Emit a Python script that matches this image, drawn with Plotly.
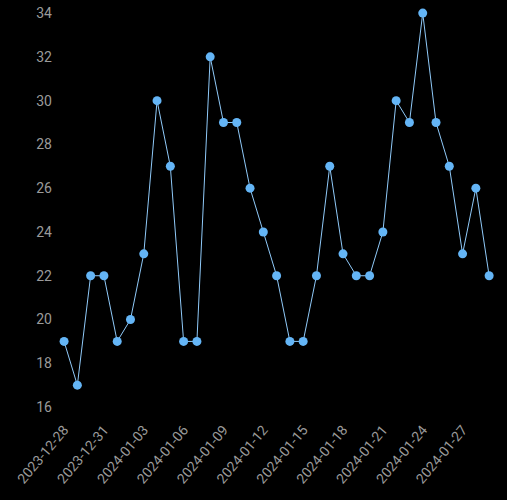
import pandas as pd
import plotly.graph_objects as go

dates = pd.date_range("2023-12-28", "2024-01-29", freq="D")
values = [19, 17, 22, 22, 19, 20, 23, 30, 27, 19, 19, 32, 29, 29, 26, 24, 22,
          19, 19, 22, 27, 23, 22, 22, 24, 30, 29, 34, 29, 27, 23, 26, 22]
tick_dates = pd.date_range("2023-12-28", "2024-01-27", freq="3D")

fig = go.Figure(go.Scatter(
    x=dates, y=values, mode="lines+markers",
    line=dict(color="#90CAF9", width=1),
    marker=dict(color="#64B5F6", size=9),
    cliponaxis=False,
))

fig.update_layout(
    width=507, height=500,
    margin=dict(l=53, r=9, t=5, b=82),
    paper_bgcolor="#000000", plot_bgcolor="#000000",
    font=dict(family="Roboto", size=14, color="#9A9A9A"),
    showlegend=False,
    xaxis=dict(
        showgrid=False, zeroline=False, showline=False,
        tickvals=tick_dates, ticktext=[d.strftime("%Y-%m-%d") for d in tick_dates],
        tickangle=-50,
        range=[dates[0] - pd.Timedelta(hours=20), dates[-1] + pd.Timedelta(hours=16)],
    ),
    yaxis=dict(
        showgrid=False, zeroline=False, showline=False,
        tickvals=list(range(16, 35, 2)),
        range=[15.5, 34.37],
    ),
)

# page without the default white body margin
page_style = "document.body.style.margin='0';document.body.style.background='#000';"
fig.write_html("out.html", post_script=page_style, config={"displayModeBar": False})
